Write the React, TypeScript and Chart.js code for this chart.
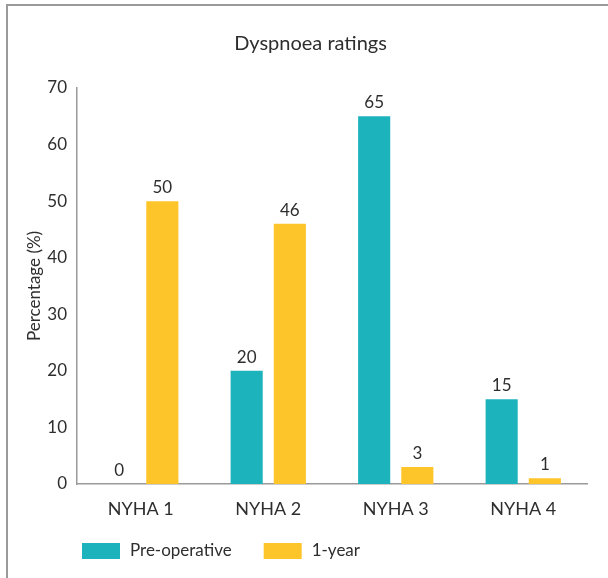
import React, { useEffect, useRef } from "react";
import { Chart, registerables } from "chart.js";

Chart.register(...registerables);

const chartTitle = "Dyspnoea ratings";
const categories = ["NYHA 1", "NYHA 2", "NYHA 3", "NYHA 4"];
const seriesNames = ["Pre-operative", "1-year"];
const preOperative = [0, 20, 65, 15];
const oneYear = [50, 46, 3, 1];
const seriesColors = ["#1db3bd", "#fec52a"];
const yAxisTitle = "Percentage (%)";
const yMin = 0;
const yMax = 70;
const yStep = 10;

const FONT = "Lato, 'DejaVu Sans', sans-serif";
const TEXT = "#2e2e2e";
const AXIS = "#9a9a9a";

const valueLabels = {
  id: "valueLabels",
  afterDatasetsDraw(chart: any) {
    const ctx = chart.ctx;
    ctx.save();
    ctx.font = `17px ${FONT}`;
    ctx.fillStyle = TEXT;
    ctx.textAlign = "center";
    ctx.textBaseline = "bottom";
    chart.data.datasets.forEach((ds: any, i: number) => {
      const meta = chart.getDatasetMeta(i);
      meta.data.forEach((el: any, j: number) => {
        ctx.fillText(String(ds.data[j]), el.x, el.y - 5);
      });
    });
    ctx.restore();
  },
};

const customLegend = {
  id: "customLegend",
  afterDraw(chart: any) {
    const ctx = chart.ctx;
    const ca = chart.chartArea;
    ctx.save();
    ctx.font = `17px ${FONT}`;
    ctx.textAlign = "left";
    ctx.textBaseline = "middle";
    let x = ca.left + 5;
    const yc = ca.bottom + 67;
    chart.data.datasets.forEach((ds: any) => {
      ctx.fillStyle = ds.backgroundColor;
      ctx.fillRect(x, yc - 8, 38, 16);
      ctx.fillStyle = TEXT;
      const tx = x + 48;
      ctx.fillText(ds.label, tx, yc);
      x = tx + ctx.measureText(ds.label).width + 32;
    });
    ctx.restore();
  },
};

export default function App() {
  const ref = useRef<HTMLCanvasElement | null>(null);

  useEffect(() => {
    if (!ref.current) return;
    const chart = new Chart(ref.current, {
      type: "bar",
      data: {
        labels: categories,
        datasets: [
          {
            label: seriesNames[0],
            data: preOperative,
            backgroundColor: seriesColors[0],
            barPercentage: 0.744,
            categoryPercentage: 0.677,
          },
          {
            label: seriesNames[1],
            data: oneYear,
            backgroundColor: seriesColors[1],
            barPercentage: 0.744,
            categoryPercentage: 0.677,
          },
        ],
      },
      options: {
        responsive: false,
        animation: false,
        layout: { padding: { left: 13, right: 0, top: 0, bottom: 44 } },
        plugins: {
          legend: { display: false },
          tooltip: { enabled: false },
          title: {
            display: true,
            text: chartTitle,
            color: TEXT,
            font: { family: FONT, size: 20, weight: "normal" },
            padding: { top: 32, bottom: 32 },
          },
        },
        scales: {
          x: {
            grid: { display: false, drawTicks: false },
            border: { display: true, color: AXIS, width: 1.5 },
            ticks: {
              color: TEXT,
              padding: 14,
              font: { family: FONT, size: 18 },
              maxRotation: 0,
            },
            afterFit(scale: any) {
              scale.height = 50;
            },
          },
          y: {
            min: yMin,
            max: yMax,
            grid: { display: false, drawTicks: false },
            border: { display: true, color: AXIS, width: 1.5 },
            ticks: {
              stepSize: yStep,
              color: TEXT,
              padding: 10,
              font: { family: FONT, size: 17 },
            },
            title: {
              display: true,
              text: yAxisTitle,
              color: TEXT,
              font: { family: FONT, size: 17 },
              padding: { top: 11, bottom: 0 },
            },
            afterFit(scale: any) {
              scale.width = 64;
            },
          },
          y2: {
            position: "right",
            display: true,
            grid: { display: false, drawTicks: false },
            border: { display: false },
            ticks: { display: false },
            afterFit(scale: any) {
              scale.width = 21;
            },
          },
        },
      },
      plugins: [valueLabels, customLegend],
    } as any);
    return () => chart.destroy();
  }, []);

  return (
    <div style={{ position: "fixed", left: 0, top: 0, width: 608, height: 578, background: "#fff" }}>
      <div
        style={{
          position: "absolute",
          left: 6,
          top: 4,
          width: 602,
          height: 574,
          borderLeft: "2px solid #9a9a9a",
          borderTop: "2px solid #9a9a9a",
        }}
      />
      <canvas
        ref={ref}
        width={608}
        height={578}
        style={{ position: "absolute", left: 0, top: 0, width: 608, height: 578 }}
      />
    </div>
  );
}
